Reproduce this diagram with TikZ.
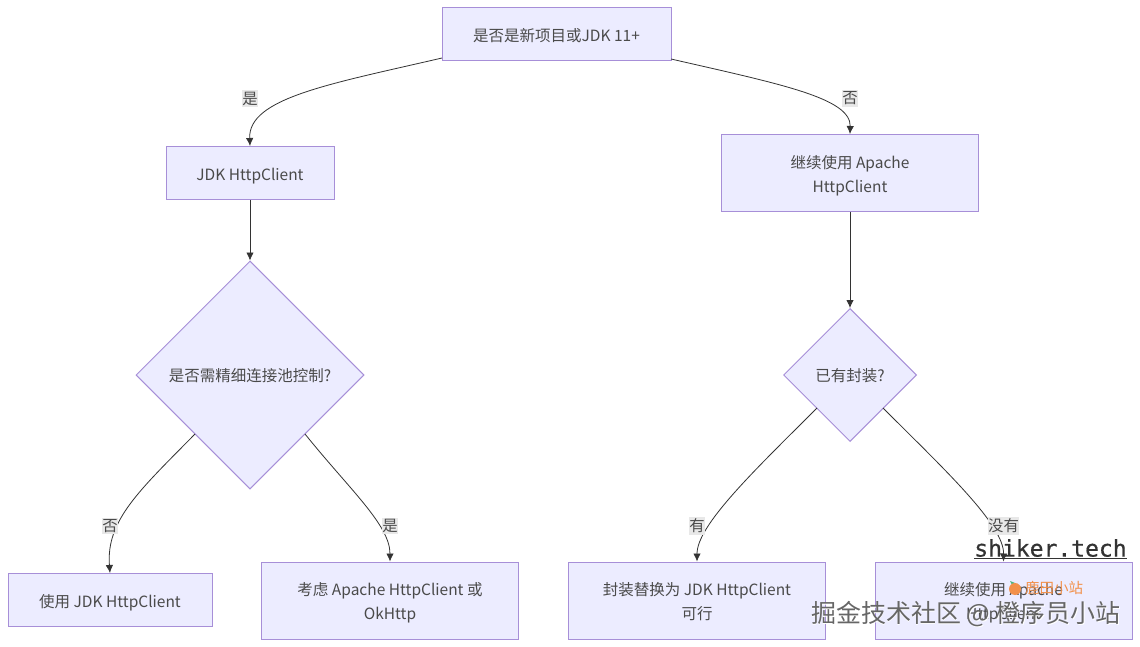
\documentclass[tikz,border=0pt]{standalone}
\usepackage{fontspec}
\setmainfont{Noto Sans CJK SC}
\newfontfamily\wmono{DejaVu Sans Mono}[FakeBold=0.5]
\usetikzlibrary{arrows.meta,shapes.geometric}
\definecolor{nodefill}{HTML}{ECECFF}
\definecolor{nodeline}{HTML}{A78FD8}
\definecolor{edgecol}{HTML}{333333}
\definecolor{txt}{HTML}{4A4A4A}
\definecolor{labbg}{HTML}{E8E8E8}
\definecolor{wmorange}{HTML}{F2904A}
\definecolor{wmgreen}{HTML}{4CB782}
\newcommand{\lowtext}[2][2.6pt]{\raisebox{-#1}[\height][\depth]{\begin{tabular}{@{}c@{}}#2\end{tabular}}}
\tikzset{x=1pt,y=-1pt,
 boxn/.style={draw=nodeline,fill=nodefill,line width=1pt,inner sep=0pt,text=txt,font=\fontsize{15.5}{24}\selectfont,align=center,anchor=center},
 dia/.style={diamond,aspect=1,draw=nodeline,fill=nodefill,line width=1pt,inner sep=0pt,text=txt,font=\fontsize{15.5}{24}\selectfont,align=center},
 edge/.style={draw=edgecol,line width=0.8pt,-{Latex[length=8pt,width=7.5pt]}},
 elab/.style={fill=labbg,text=txt,inner xsep=0.5pt,inner ysep=1.5pt,font=\fontsize{15.4}{18}\selectfont}}
\begin{document}
\begin{tikzpicture}
\useasboundingbox (0,0) rectangle (1140,647);
\fill[white] (0,0) rectangle (1140,647);
\node[boxn,minimum width=229pt,minimum height=53pt] (a) at (556.5,34.5) {\lowtext{是否是新项目或JDK 11+}};
\node[boxn,minimum width=168pt,minimum height=53pt] (b) at (250,173) {\lowtext{JDK HttpClient}};
\node[boxn,minimum width=257pt,minimum height=77pt] (c) at (850,173) {\lowtext{继续使用 Apache\\HttpClient}};
\node[dia,minimum width=228pt,minimum height=228pt] (d) at (250,375) {\lowtext[1.4pt]{是否需精细连接池控制?}};
\node[dia,minimum width=133pt,minimum height=133pt] (e) at (850,375) {\lowtext[1.4pt]{已有封装?}};
\node[boxn,minimum width=204pt,minimum height=53pt] (f) at (110,600) {\lowtext{使用 JDK HttpClient}};
\node[boxn,minimum width=257pt,minimum height=77pt] (g) at (390,600.5) {\lowtext{考虑 Apache HttpClient 或\\OkHttp}};
\node[boxn,minimum width=257pt,minimum height=77pt] (h) at (697,600.5) {\lowtext{封装替换为 JDK HttpClient\\可行}};
\node[boxn,minimum width=257pt,minimum height=77pt] (i) at (1003.5,600.5) {\lowtext{继续使用 Apache\\HttpClient}};
\coordinate (a1) at (442,58);
\coordinate (a2) at (671,59);
\coordinate (d1) at (195,434);
\coordinate (d2) at (305,434);
\coordinate (e1) at (817,408);
\coordinate (e2) at (883,408);
\draw[edge] (a1) .. controls (330,84) and (248,98) .. (b.north);
\draw[edge] (a2) .. controls (780,84) and (851,98) .. (c.north);
\draw[edge] (b) -- (d);
\draw[edge] (c) -- (e);
\draw[edge] (d1) .. controls (140,490) and (106,520) .. (f.north);
\draw[edge] (d2) .. controls (350,490) and (390,525) .. (g.north);
\draw[edge] (e1) .. controls (755,470) and (697,525) .. (h.north);
\draw[edge] (e2) .. controls (945,470) and (1004,525) .. (i.north);
\node[elab] (l1) at (250,98.5) {是};
\node[elab] (l2) at (850,98.5) {否};
\node[elab] (l3) at (110,526) {否};
\node[elab] (l4) at (390,526) {是};
\node[elab] (l5) at (697,526) {有};
\node[elab] (l6) at (1003.5,526) {没有};
\node[text=black!80,font=\wmono\fontsize{23}{26}\selectfont,inner sep=0pt] (w1) at (1050.5,548) {shiker.tech};
\draw[black!80,line width=1.2pt] (974,558.5) -- (1127,558.5);
\fill[wmgreen] (1010,581) -- (1015,583) -- (1012,585) -- cycle;
\node[circle,fill=wmorange,inner sep=0pt,minimum size=12pt] (w2) at (1015,589) {};
\node[text=wmorange,font=\fontsize{14.5}{16}\selectfont,inner sep=0pt] (w3) at (1054,588) {鹿田小站};
\node[text=white,font=\fontsize{25}{28}\selectfont,inner sep=0pt] (w4) at (966.8,614.8) {掘金技术社区 @ 橙序员小站};
\node[text=black!60,font=\fontsize{25}{28}\selectfont,inner sep=0pt] (w5) at (966,614) {掘金技术社区 @ 橙序员小站};
\end{tikzpicture}
\end{document}
